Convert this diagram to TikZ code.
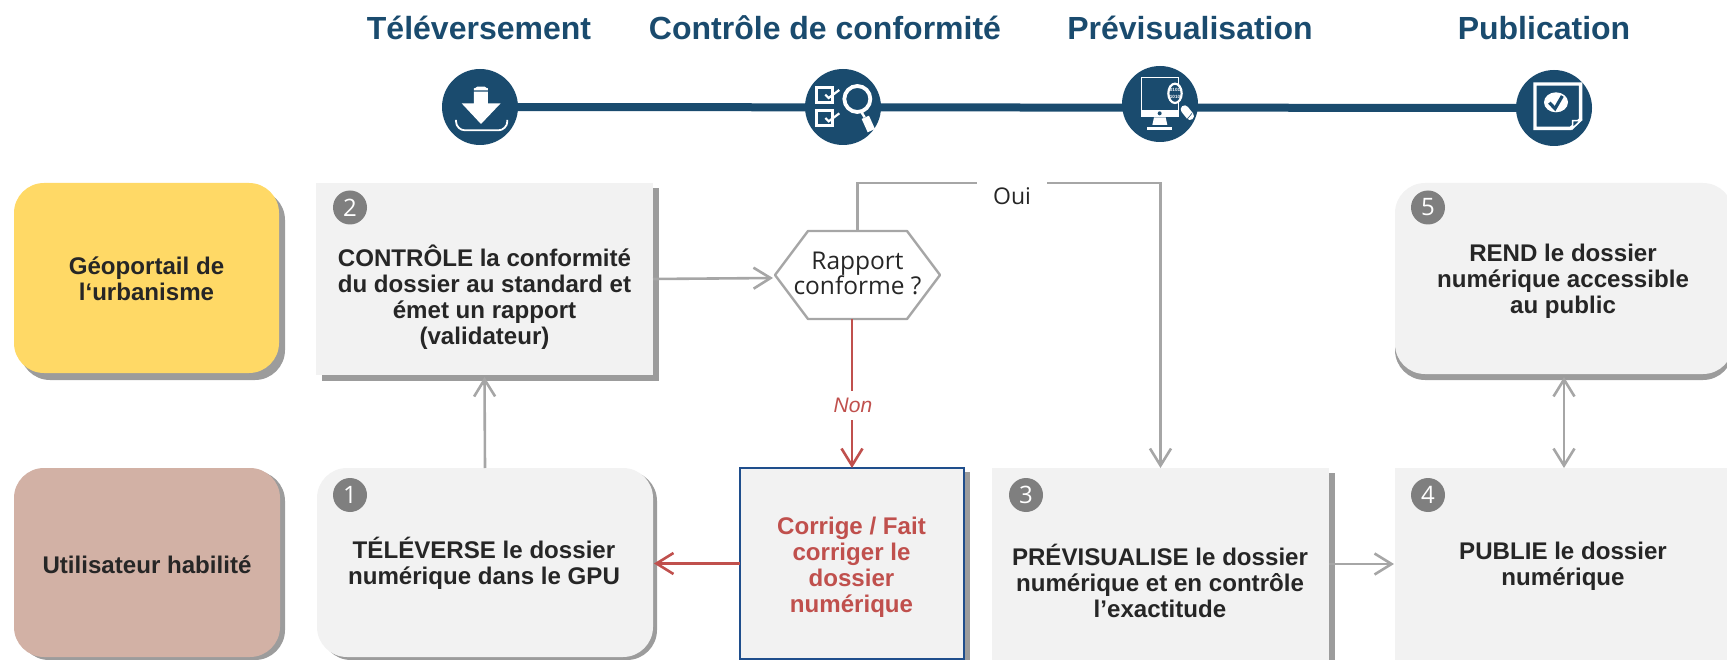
\documentclass[tikz,border=0pt]{standalone}
\usepackage{fontspec}
\setmainfont{Liberation Sans}
\newfontfamily\opensans{Open Sans}
\usetikzlibrary{arrows.meta}
\definecolor{navy}{HTML}{1A4B6E}
\definecolor{panelgray}{HTML}{F2F2F2}
\definecolor{shadowgray}{HTML}{9C9C9C}
\definecolor{linegray}{HTML}{A6A6A6}
\definecolor{badgegray}{HTML}{7F7F7F}
\definecolor{redline}{HTML}{C0504D}
\definecolor{inktext}{HTML}{262626}
\definecolor{geoyellow}{HTML}{FFD966}
\definecolor{userrose}{HTML}{D2B1A5}
\definecolor{bordernavy}{HTML}{1F4E8C}
\newcommand{\panel}[8]{%
  \pgfmathsetmacro\pw{#4-#2}\pgfmathsetmacro\ph{#5-#3}%
  \node[#8,shadowbox,minimum width=\pw pt,minimum height=\ph pt] (#1s) at ({#2+#6},{#3+#7}) {};
  \node[#8,minimum width=\pw pt,minimum height=\ph pt] (#1) at (#2,#3) {};
}
\tikzset{
  base/.style={anchor=north west,inner sep=0pt,outer sep=0pt,fill=panelgray},
  squarebox/.style={base},
  roundbox/.style={base,rounded corners=30pt},
  shadowbox/.style={fill=shadowgray,draw=none},
  flow/.style={draw=linegray,line width=2.6pt,-{Straight Barb[length=17pt,width=21pt,line width=2.6pt]}},
  flowplain/.style={draw=linegray,line width=2.6pt},
  redflow/.style={draw=redline,line width=2.6pt,-{Straight Barb[length=17pt,width=21pt,line width=2.6pt]}},
  txt/.style={align=center,text=inktext,inner sep=0pt,font=\fontsize{24.1}{26}\selectfont\bfseries},
  title/.style={text=navy,inner sep=0pt,font=\fontsize{32}{36}\selectfont\bfseries},
  badge/.style={circle,fill=badgegray,text=white,minimum size=34pt,inner sep=0pt,font=\opensans\fontsize{24}{24}\selectfont},
  disc/.style={circle,fill=navy,minimum size=76pt,inner sep=0pt,outer sep=0pt},
  icon/.style={draw=white,line width=3pt},
}
\begin{document}
\begin{tikzpicture}[x=1pt,y=-1pt]
\useasboundingbox (0,0) rectangle (1727,660);
\clip (0,0) rectangle (1727,660);
% titles
\node[title] (t-a) at (479,28) {Téléversement};
\node[title] (t-b) at (825,28) {Contrôle de conformité};
\node[title] (t-c) at (1190,28) {Prévisualisation};
\node[title] (t-d) at (1544,28) {Publication};
% timeline
\coordinate (c1p) at (480,107);
\coordinate (c4p) at (1554,108);
\draw[navy,line width=8pt] (c1p) -- (c4p);
\node[disc] (c1) at (c1p) {};
\node[disc] (c2) at (843,107) {};
\node[disc] (c3) at (1160,104) {};
\node[disc] (c4) at (c4p) {};
% download icon
\begin{scope}[shift={(380,50)},scale=0.3333]
  \fill[white] (282,121) -- (282,115) to[out=-80,in=180] (292,110) -- (314,110) to[out=0,in=-100] (324,115) -- (324,121) -- cycle;
  \fill[white] (282,125) -- (324,125) -- (324,160) -- (362,160) -- (303,222) -- (245,160) -- (282,160) -- cycle;
  \draw[white,line width=1.8pt,rounded corners=9pt] (228,210) -- (228,241) -- (382,241) -- (382,210);
\end{scope}
% control icon
\begin{scope}[shift={(790,60)},scale=0.3333]
  \draw[icon] (80,82) rectangle (126,127);
  \draw[icon] (80,153) rectangle (126,197);
  \draw[white,line width=2.2pt] (106,104) -- (116,114) -- (148,90);
  \draw[white,line width=2.2pt] (106,174) -- (116,184) -- (148,160);
  \draw[white,line width=3.8pt] (202,117) circle[radius=39];
  \draw[white,line width=2.4pt] (214,156) -- (224,172);
  \draw[white,line width=8pt] (226,172) -- (244,212);
\end{scope}
% preview icon
\begin{scope}[shift={(1110,60)},scale=0.3333]
  \fill[white] (92,50) -- (207,50) -- (207,170) -- (92,170) -- cycle;
  \fill[navy] (97,55) rectangle (203,151);
  \fill[navy] (149,160) circle[radius=6];
  \fill[white] (132,172) -- (167,172) -- (172,195) -- (127,195) -- cycle;
  \fill[white] (112,200) rectangle (186,209);
  \filldraw[fill=navy,draw=white,line width=2.2pt] (195,100) ellipse[x radius=20,y radius=29];
  \node[text=white,inner sep=0pt,align=center,font=\fontsize{4.6}{6.5}\selectfont\bfseries] (bin) at (195,100) {0101\\1010};
  \draw[white,line width=8pt,line cap=round] (224,148) -- (240,168);
  \draw[navy,line width=0.6pt] (231,178) -- (246,160);
\end{scope}
% publication icon
\begin{scope}[shift={(1500,60)},scale=0.3333]
  \draw[white,line width=3.4pt] (105,72) -- (242,72) -- (242,178) -- (212,205) -- (105,205) -- cycle;
  \filldraw[fill=navy,draw=white,line width=1.6pt] (218,182) -- (242,182) -- (218,205) -- cycle;
  \fill[white] (168,127) ellipse[x radius=36,y radius=30];
  \draw[navy,line width=3.2pt] (148,128) -- (165,146) -- (187,108);
\end{scope}
% panels
\panel{geo}{14}{183}{279}{373}{6}{7}{roundbox,fill=geoyellow}
\panel{usr}{14}{468}{280}{657}{5}{3}{roundbox,fill=userrose}
\panel{b2}{316}{183}{653}{375}{5.5}{5.5}{squarebox}
\panel{b1}{317}{468}{653}{657}{4}{3}{roundbox}
\panel{bc}{740}{468}{964}{659}{6}{4}{squarebox,draw=bordernavy,line width=2pt}
\panel{b3}{992}{468}{1329}{660}{6}{5}{squarebox}
\panel{b5}{1395}{183}{1733}{374}{0}{6}{roundbox}
\panel{b4}{1395}{468}{1733}{660}{0}{0}{squarebox}
% decision
\node[minimum width=165pt,minimum height=88pt,inner sep=0pt,outer sep=0pt] (h) at (857.5,275) {};
\draw[draw=linegray,line width=2.4pt,line join=round] (h.west) -- ([xshift=33pt]h.north west) -- ([xshift=-33pt]h.north east) -- (h.east) -- ([xshift=-33pt]h.south east) -- ([xshift=33pt]h.south west) -- cycle;
\node[align=center,text=inktext,inner sep=0pt,font=\opensans\fontsize{24.5}{25}\selectfont] (htext) at (857.5,273) {Rapport\\conforme ?};
% connectors
\coordinate (ouicorner) at (1160.5,183);
\draw[flow] (b1.north) -- ([yshift=-2pt]b2.south);
\draw[flow] (b2.east) -- ([shift={(-2pt,-3pt)}]h.west);
\draw[flow] (h.north) |- (ouicorner) -- (b3.north);
\draw[redflow] (bc.north |- h.south) -- (bc.north);
\draw[redflow] (bc.west) -- ([xshift=1pt]b1.east |- bc.west);
\draw[flow] (b3.east) -- ([xshift=-1pt]b4.west);
\draw[flowplain,{Straight Barb[length=17pt,width=21pt,line width=2.6pt]}-{Straight Barb[length=17pt,width=21pt,line width=2.6pt]}] ([yshift=-3pt]b5.south) -- (b4.north);
% connector labels
\node[fill=white,text=inktext,inner sep=0pt,minimum width=70pt,minimum height=44pt,font=\opensans\fontsize{23}{24}\selectfont] (oui) at (1012,196) {Oui};
\node[fill=white,text=redline,inner sep=0pt,minimum width=44pt,minimum height=29pt,font=\fontsize{21}{24}\selectfont\itshape] (non) at (853,405.5) {Non};
% box texts
\node[txt] (tgeo) at (146.5,279) {Géoportail de\\l‘urbanisme};
\node[txt] (tusr) at (147,565) {Utilisateur habilité};
\node[txt] (t2) at (484.5,297.5) {CONTRÔLE la conformité\\du dossier au standard et\\émet un rapport\\(validateur)};
\node[txt] (t1) at (484,563.5) {TÉLÉVERSE le dossier\\numérique dans le GPU};
\node[txt,text=redline] (tc) at (851.5,567) {Corrige / Fait\\corriger le\\dossier\\numérique};
\node[txt] (t3) at (1160,580.5) {PRÉVISUALISE le dossier\\numérique et en contrôle\\l’exactitude};
\node[txt] (t5) at (1563,281.5) {REND le dossier\\numérique accessible\\au public};
\node[txt] (t4) at (1563,566) {PUBLIE le dossier\\numérique};
% badges
\node[badge] (n1) at (350,495) {1};
\node[badge] (n2) at (350,207.5) {2};
\node[badge] (n3) at (1026,495) {3};
\node[badge] (n4) at (1428,495) {4};
\node[badge] (n5) at (1428,207.5) {5};
\end{tikzpicture}
\end{document}
